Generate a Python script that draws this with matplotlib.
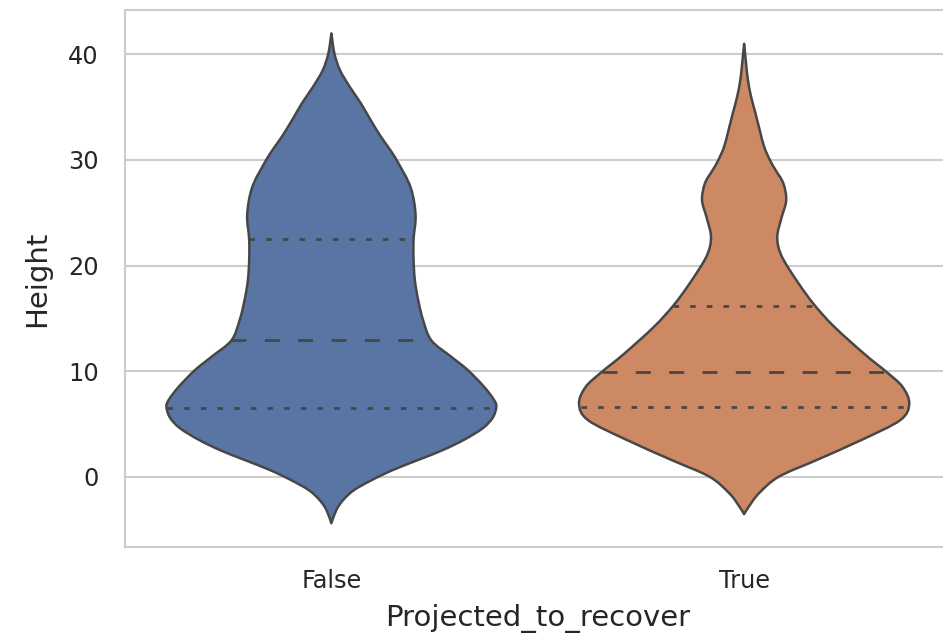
import numpy as np
import matplotlib
matplotlib.use("Agg")
import matplotlib.pyplot as plt
from matplotlib.path import Path
from matplotlib.patches import PathPatch

# ---- data ----
categories = ["False", "True"]
x_label = "Projected_to_recover"
y_label = "Height"
y_ticks = [0, 10, 20, 30, 40]

# KDE profile of each violin: heights and relative density (half-width) at those heights
false_heights = [-4.41, -3.15, -2.2, -1.26, -0.31, 0.63, 1.6, 2.5, 3.5, 4.6, 5.6, 6.6, 7.26,
                 8.5, 10.1, 11.36, 12.9, 14.8, 16.7, 18.6, 20.5, 22.5, 24.8, 27.4,
                 29.8, 31.0, 32.2, 33.8, 35.4, 36.9, 38.5, 40.1, 41.98]
false_density = [0, 5, 12, 23, 41, 62, 88, 112, 134, 153, 163, 166.5, 164.3,
                 154.3, 137.7, 121, 101, 92.7, 87.7, 84.3, 83, 83, 85, 80,
                 67, 59, 50, 39.5, 29.5, 18.7, 8.7, 3, 0]

true_heights = [-3.55, -2.8, -1.57, 0.0, 1.57, 3.46, 5.35, 6.9, 8.5, 9.9, 11.6,
                14.2, 16.26, 18.3, 20.5, 21.8, 23.0, 24.6, 26.2, 27.8, 29.0,
                29.9, 31.2, 32.8, 34.4, 36.0, 37.6, 39.1, 41.0]
true_density = [0, 5, 15, 35, 73, 118, 157.5, 166.7, 160, 144, 121.7,
                91, 71, 55, 40, 34.5, 33.7, 38, 42.5, 39.5, 32,
                26.5, 20.4, 15.8, 11.5, 7, 3.8, 2, 0]

# quartiles (Q1, median, Q3)
false_quartiles = [6.55, 12.9, 22.5]
true_quartiles = [6.6, 9.9, 16.2]

colors = ["#5975A4", "#CC8963"]
edge = "#474747"

profiles = [(false_heights, false_density, false_quartiles),
            (true_heights, true_density, true_quartiles)]

plt.rcParams["font.family"] = ["DejaVu Sans"]
plt.rcParams["lines.scale_dashes"] = False


def smooth_side(pts):
    """Catmull-Rom spline through pts expressed as cubic Bezier path segments."""
    n = len(pts)
    verts, codes = [], []
    for k in range(n - 1):
        p0 = pts[max(k - 1, 0)]
        p1 = pts[k]
        p2 = pts[k + 1]
        p3 = pts[min(k + 2, n - 1)]
        c1 = p1 + (p2 - p0) / 6.0
        c2 = p2 - (p3 - p1) / 6.0
        verts += [c1, c2, p2]
        codes += [Path.CURVE4] * 3
    return verts, codes


W, H, DPI = 943, 636, 100
fig = plt.figure(figsize=(W / DPI, H / DPI), dpi=DPI)
ax = fig.add_axes([125 / W, 89.3 / H, 825.5 / W, 536.7 / H])

max_d = max(max(false_density), max(true_density))
half = 0.4
for i, (ys, ds, qs) in enumerate(profiles):
    ys = np.asarray(ys, float)
    w = np.asarray(ds, float) / max_d * half
    left = np.column_stack([i - w, ys])
    right = np.column_stack([i + w, ys])[::-1]
    v1, c1 = smooth_side(left)
    v2, c2 = smooth_side(right)
    verts = [left[0]] + v1 + v2 + [left[0]]
    codes = [Path.MOVETO] + c1 + c2 + [Path.CLOSEPOLY]
    patch = PathPatch(Path(verts, codes), facecolor=colors[i], edgecolor=edge,
                      linewidth=1.8, joinstyle="round", zorder=2)
    ax.add_patch(patch)
    for j, q in enumerate(qs):
        hw = np.interp(q, ys, w)
        if j == 1:
            dashes = (10.8, 13.2)
        else:
            dashes = (4.0, 8.0)
        ax.plot([i - hw, i + hw], [q, q], color=edge, linewidth=2.0,
                dashes=dashes, dash_capstyle="butt", zorder=3)

ax.set_xlim(-0.5, 1.5)
ax.set_ylim(-6.63, 44.2)
ax.set_xticks(range(len(categories)))
ax.set_xticklabels(categories)
ax.set_yticks(y_ticks)
ax.tick_params(axis="both", length=0, labelsize=17.3, colors="#262626")
ax.tick_params(axis="y", pad=19)
ax.tick_params(axis="x", pad=16)
ax.yaxis.grid(True, color="#cccccc", linewidth=1.5)
ax.xaxis.grid(False)
ax.set_axisbelow(True)
for s in ax.spines.values():
    s.set_color("#cccccc")
    s.set_linewidth(1.5)
ax.set_xlabel(x_label, fontsize=21, color="#262626", labelpad=8)
ax.set_ylabel(y_label, fontsize=21, color="#262626", labelpad=12)

fig.savefig("out.png", dpi=DPI)
